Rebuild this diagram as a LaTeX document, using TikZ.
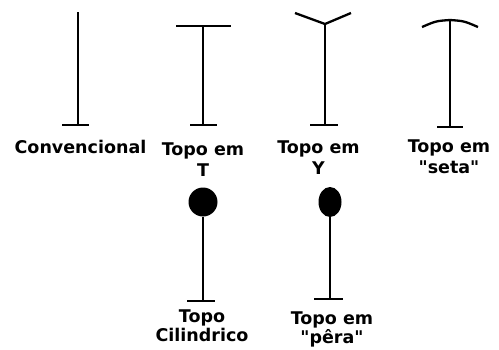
\documentclass[tikz,border=0pt]{standalone}
\usepackage{fontspec}
\usetikzlibrary{shapes.geometric}
\setmainfont{DejaVu Sans}[Ligatures=TeXOff]
\newcommand{\twoline}[2]{{\setlength{\tabcolsep}{0pt}\begin{tabular}[t]{c}#1\\#2\end{tabular}}}
\begin{document}
\begin{tikzpicture}[x=1pt,y=-1pt,
  stem/.style={line width=2.3pt,line cap=butt},
  bar/.style={line width=2.8pt,line cap=butt},
  lbl/.style={anchor=base,inner sep=0pt,font=\fontsize{17.5}{21}\selectfont\bfseries},
  lbllow/.style={lbl,font=\fontsize{17.5}{19.5}\selectfont\bfseries}]
\useasboundingbox[fill=white] (0,0) rectangle (499,349);

% Convencional: plain stem with a foot
\coordinate (c1t) at (78,12);
\coordinate (c1b) at (78,125);
\draw[stem] (c1t) -- (c1b);
\draw[bar] (62,125) -- (89,125);
\node[lbl] (l1) at (80.5,153) {Convencional};

% Topo em T
\coordinate (c2t) at (203,26);
\coordinate (c2b) at (203,125);
\draw[stem] (c2t) -- (c2b);
\draw[bar] (176,26) -- (231,26);
\draw[bar] (190,125) -- (217,125);
\node[lbl] (l2) at (203,155) {\twoline{Topo em}{T}};

% Topo em Y
\coordinate (c3t) at (325,24);
\coordinate (c3b) at (325,125);
\draw[stem] (c3t) -- (c3b);
\draw[stem,line join=round] (295,13) -- (c3t) -- (351,13);
\draw[bar] (310,125) -- (338,125);
\node[lbl] (l3) at (318.5,153) {\twoline{Topo em}{Y}};

% Topo em "seta"
\coordinate (c4t) at (450,20);
\coordinate (c4b) at (450,127);
\draw[stem] (c4t) -- (c4b);
\draw[stem] (422,27) .. controls (436,21) .. (c4t) .. controls (464,21) .. (478,27);
\draw[bar] (437,127) -- (463,127);
\node[lbl] (l4) at (449,152) {\twoline{Topo em}{"seta"}};

% Topo cilindrico
\node[circle,fill=black,minimum size=29pt,inner sep=0pt] (h5) at (203,202) {};
\coordinate (c5b) at (203,301);
\draw[stem] (h5.south) -- (c5b);
\draw[bar] (187,301) -- (215,301);
\node[lbllow] (l5) at (202,322) {\twoline{Topo}{Cilindrico}};

% Topo em "pera"
\node[ellipse,fill=black,minimum width=23pt,minimum height=30pt,inner sep=0pt] (h6) at (330,202) {};
\coordinate (c6b) at (330,299);
\draw[stem] (h6.south) -- (c6b);
\draw[bar] (314,299) -- (343,299);
\node[lbllow] (l6) at (332,324) {\twoline{Topo em}{"pêra"}};
\end{tikzpicture}
\end{document}
